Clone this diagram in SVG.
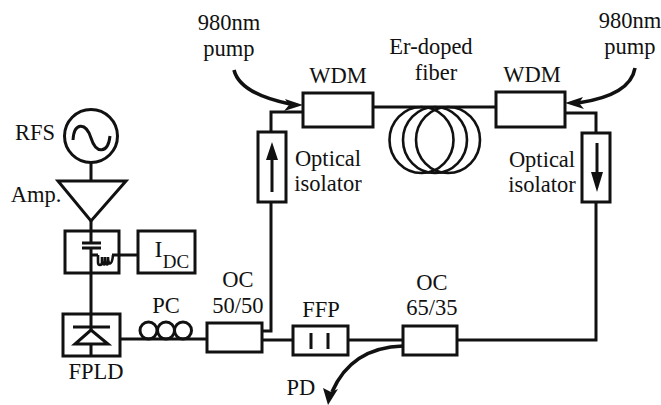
<svg xmlns="http://www.w3.org/2000/svg" width="661" height="405" viewBox="0 0 661 405">
<style>
text{font-family:"Liberation Serif","Times New Roman",serif;font-size:22.5px;fill:#111;text-anchor:middle}
.b{fill:#fff;stroke:#111;stroke-width:3}
.l{fill:none;stroke:#111;stroke-width:3}
.c{fill:none;stroke:#111;stroke-width:2.6}
.a{fill:none;stroke:#111;stroke-width:3.6}
.h{fill:#111;stroke:none}
</style>
<rect width="661" height="405" fill="#fff"/>
<g id="connectors">
<path class="l" d="M91 163V180M91 220V314M120 339H207M262 340H293M348 340H403M457 340H596V202M596 133V113H565M373 107H496M303 112H271V132M271 202V331H262"/>
<path class="l" d="M119 255H138"/>
<path class="a" d="M234 70C238 86 256 97 290 104"/>
<path class="h" d="M303 105L285 99L289 105L284 111Z"/>
<path class="a" d="M635 68C632 86 612 98 578 103"/>
<path class="h" d="M565 103L583 97L579 103L584 109Z"/>
<path class="a" d="M403 346C370 347 345 362 332 392"/>
<path class="h" d="M328 405L323 388L331 392L338 389Z"/>
</g>
<g id="rfs"><circle class="b" cx="91" cy="136" r="26.5"/><path class="l" d="M73 140C74 122 86 122 91 138S108 154 110 136"/><text x="35" y="140">RFS</text></g>
<g id="amp"><path class="b" d="M58 181H126L91 221Z"/><text x="36" y="202">Amp.</text></g>
<g id="bias-tee"><rect class="b" x="65" y="231" width="54" height="42"/><path class="l" d="M91 231V243M91 248V273M82 243H101M82 248H101M91 255H98M112 255H119"/><path class="c" d="M98 255V262C98 266 102 266 102 262V257C102 266 105 266 105 262V257C105 266 108 266 108 262V257C108 266 112 266 113 255"/></g>
<g id="idc"><rect class="b" x="138" y="231" width="57" height="42"/><text x="158.500" y="257" style="font-size:24px">I</text><text x="176" y="268" style="font-size:19px">DC</text></g>
<g id="fpld"><rect class="b" x="63" y="314" width="57" height="42"/><path class="l" d="M91 314V330M91 344V356M73 327H110"/><path class="b" d="M75 344H108L91 330Z"/><text x="96" y="379">FPLD</text></g>
<g id="pc"><circle class="l" cx="148.500" cy="330.500" r="8.500"/><circle class="l" cx="166" cy="330.500" r="8.500"/><circle class="l" cx="183" cy="330.500" r="8.500"/><text x="166" y="313">PC</text></g>
<g id="oc5050"><rect class="b" x="207" y="323" width="55" height="29"/><text x="238" y="287">OC</text><text x="238" y="313">50/50</text></g>
<g id="ffp"><rect class="b" x="293" y="326" width="55" height="29"/><path class="l" d="M311 333V349M328 333V349"/><text x="321" y="317">FFP</text></g>
<g id="oc6535"><rect class="b" x="403" y="326" width="54" height="29"/><text x="432" y="290">OC</text><text x="432" y="315">65/35</text></g>
<g id="pd"><text x="301" y="395">PD</text></g>
<g id="isolator-left"><rect class="b" x="258" y="132" width="28" height="70"/><path class="l" d="M272 192V155"/><path class="h" d="M272 142L266 160H278Z"/><text x="328" y="166">Optical</text><text x="328" y="191">isolator</text></g>
<g id="isolator-right"><rect class="b" x="582" y="133" width="28" height="69"/><path class="l" d="M597 143V178"/><path class="h" d="M597 192L591 172H603Z"/><text x="542" y="167">Optical</text><text x="542" y="192">isolator</text></g>
<g id="wdm-left"><rect class="b" x="303" y="93" width="70" height="34"/><text x="338" y="83">WDM</text></g>
<g id="wdm-right"><rect class="b" x="496" y="92" width="69" height="35"/><text x="532" y="82">WDM</text></g>
<g id="fiber"><ellipse class="c" cx="421.500" cy="140" rx="32" ry="33"/><ellipse class="c" cx="435" cy="140" rx="32" ry="33"/><ellipse class="c" cx="448" cy="140" rx="32" ry="33"/><text x="431" y="54">Er-doped</text><text x="436" y="80">fiber</text></g>
<g id="pump-left"><text x="229" y="30">980nm</text><text x="229" y="56">pump</text></g>
<g id="pump-right"><text x="630" y="28">980nm</text><text x="630" y="54">pump</text></g>
</svg>
